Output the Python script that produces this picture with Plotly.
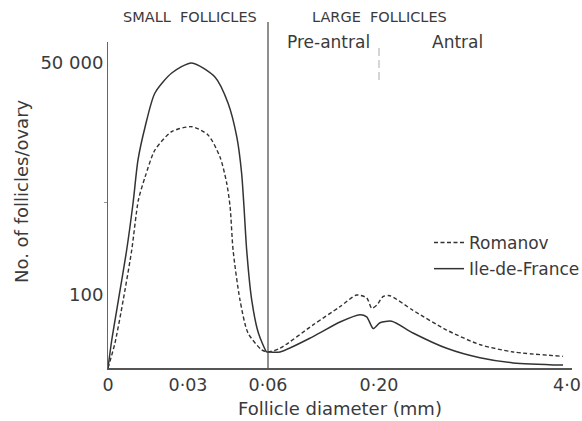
import numpy as np
import plotly.graph_objects as go

# ---------------- data ----------------
# Follicle diameter (mm) and number of follicles per ovary
romanov_x = [0, 0.0026, 0.0057, 0.0089, 0.0114, 0.0139, 0.0176, 0.0239, 0.0314, 0.0375,
             0.0420, 0.0445, 0.0458, 0.0469, 0.0495, 0.0525, 0.0576, 0.0600,
             0.0751, 0.1168, 0.1508, 0.1719, 0.1845, 0.1908, 0.1971, 0.287, 0.422,
             0.887, 1.568, 2.24, 2.91, 3.92]
romanov_y = [0, 34, 93, 9780, 20530, 25480, 31290, 35230, 36300, 34520,
             29780, 24190, 19030, 9780, 93, 48, 25, 22,
             27, 59, 84, 100, 96, 82, 86, 98, 99,
             79, 52, 32, 22, 16]

idf_x = [0, 0.0014, 0.0039, 0.0070, 0.0094, 0.01125, 0.0139, 0.0176, 0.0239, 0.0314,
         0.0401, 0.0450, 0.0483, 0.0501, 0.0510, 0.0520, 0.0539, 0.0564, 0.0595, 0.0600,
         0.0751, 0.1168, 0.1508, 0.1760, 0.1845, 0.1928, 0.22, 0.457,
         0.887, 1.568, 2.24, 2.91, 3.92]
idf_y = [0, 38, 93, 9780, 19890, 29140, 36240, 43550, 47850, 50000,
         46990, 41400, 34090, 26340, 19030, 9780, 93, 48, 22, 22,
         22, 43, 63, 73, 70, 54, 62, 64,
         48, 27, 14, 7, 4]

x_tick_values = [0, 0.03, 0.06, 0.20, 4.0]
x_tick_labels = ["0", "0·03", "0·06", "0·20", "4·0"]
y_tick_values = [100, 50000]
y_tick_labels = ["100", "50 000"]

# ---------------- broken (piecewise) scales of the original figure ----------------
X_BREAKS = [0, 0.06, 0.20, 4.0]
X_POS = [0, 160, 271, 459]
Y_BREAKS = [0, 100, 50000]
Y_POS = [0, 73, 305]


def xmap(v):
    return np.interp(v, X_BREAKS, X_POS)


def ymap(v):
    return np.interp(v, Y_BREAKS, Y_POS)


INK = "#333333"
TXT = "#3a3a3a"
FONT = "DejaVu Sans"

fig = go.Figure()
fig.add_trace(go.Scatter(
    x=xmap(romanov_x), y=ymap(romanov_y), mode="lines", name="Romanov",
    line=dict(color=INK, width=1.4, dash="4px,2.5px", shape="spline", smoothing=0.7),
    legendgroup="r", hoverinfo="skip"))
fig.add_trace(go.Scatter(
    x=xmap(idf_x), y=ymap(idf_y), mode="lines", name="Ile-de-France",
    line=dict(color=INK, width=1.5, shape="spline", smoothing=0.7),
    legendgroup="i", hoverinfo="skip"))

H_PLOT = 326.0
def py(q):  # pixel row -> paper y
    return (368 - q) / H_PLOT

# divider between small and large follicles
fig.add_shape(type="line", xref="x", yref="paper", x0=xmap(0.06), x1=xmap(0.06),
              y0=0, y1=py(22), line=dict(color="#444444", width=1.2))
# faint marker between pre-antral and antral
fig.add_shape(type="line", xref="x", yref="paper", x0=xmap(0.20), x1=xmap(0.20),
              y0=py(80), y1=py(44), line=dict(color="#c8c8c8", width=1.5, dash="8px,4px"))

ann_font = dict(family=FONT, size=14.5, color=TXT)
lab_font = dict(family=FONT, size=17, color=TXT)
common = dict(showarrow=False, xanchor="center", yanchor="middle")
fig.add_annotation(x=xmap(0.03) + 2, y=py(17), xref="x", yref="paper",
                   text="SMALL  FOLLICLES", font=ann_font, **common)
fig.add_annotation(x=xmap(0.20), y=py(17), xref="x", yref="paper",
                   text="LARGE  FOLLICLES", font=ann_font, **common)
fig.add_annotation(x=220, y=py(42), xref="x", yref="paper",
                   text="Pre-antral", font=lab_font, **common)
fig.add_annotation(x=349, y=py(42), xref="x", yref="paper",
                   text="Antral", font=lab_font, **common)
fig.add_annotation(x=(21 - 108) / 464, y=py(191), xref="paper", yref="paper",
                   text="No. of follicles/ovary", textangle=-90,
                   font=dict(family=FONT, size=18, color=TXT), **common)

fig.update_layout(
    width=582, height=421, autosize=False,
    margin=dict(l=108, r=10, t=42, b=53, autoexpand=False),
    paper_bgcolor="white", plot_bgcolor="white",
    font=dict(family=FONT, size=16, color=TXT),
    showlegend=True,
    legend=dict(x=(429 - 108) / 464, y=py(225), xanchor="left", yanchor="top",
                bgcolor="rgba(0,0,0,0)", borderwidth=0, tracegroupgap=1,
                font=dict(family=FONT, size=17, color=TXT)),
    xaxis=dict(range=[0, 464], showgrid=False, zeroline=False, automargin=False,
               showline=True, linecolor="#555555", linewidth=1.5,
               tickmode="array", tickvals=xmap(x_tick_values), ticktext=x_tick_labels,
               ticks="", tickfont=dict(family=FONT, size=17.5, color=TXT),
               title=dict(text="Follicle diameter (mm)", standoff=9,
                          font=dict(family=FONT, size=18, color=TXT))),
    yaxis=dict(range=[0, 326], showgrid=False, zeroline=False, automargin=False,
               showline=True, linecolor="#666666", linewidth=1,
               tickmode="array", tickvals=ymap(y_tick_values), ticktext=y_tick_labels,
               ticks="", ticklabelstandoff=0,
               tickfont=dict(family=FONT, size=18, color=TXT),
               minor=dict(tickvals=[ymap(20000)], ticks="outside", ticklen=3,
                          tickcolor="#999999")),
)

fig.write_html("out.html", config={"displayModeBar": False},
               post_script="document.body.style.margin='0px';")
